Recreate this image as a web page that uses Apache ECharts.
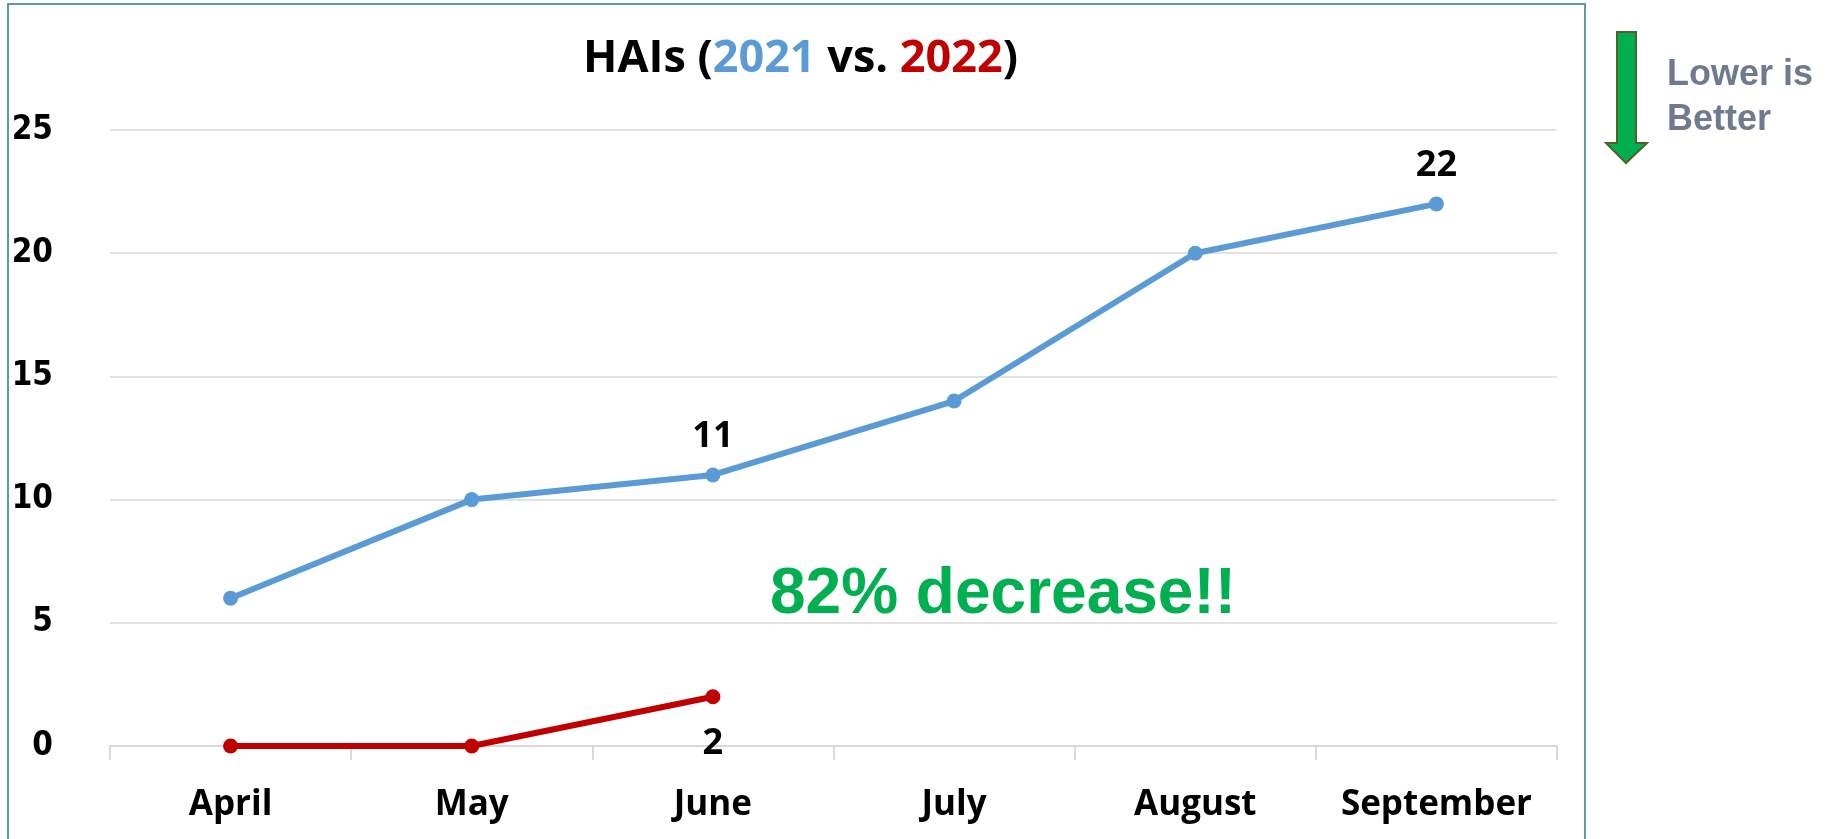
<!DOCTYPE html>
<html>
  <head>
    <meta charset="UTF-8" />
    <title>HAIs (2021 vs. 2022)</title>
    <script type="text/javascript" src="https://cdn.jsdelivr.net/npm/echarts@6.0.0/dist/echarts.min.js"></script>
    <style>
      html, body { margin: 0; padding: 0; background: #fff; }
      #main { width: 1836px; height: 839px; }
    </style>
  </head>
  <body>
    <div id="main"></div>
    <script type="text/javascript">
      // 数据
      var months = ["April", "May", "June", "July", "August", "September"];
      var hai2021 = [6, 10, 11, 14, 20, 22];
      var hai2022 = [0, 0, 2];
      // 只显示这几个点的数值
      var labeled2021 = ["June", "September"];
      var labeled2022 = ["June"];
      var yTicks = [0, 5, 10, 15, 20, 25];

      var blue = "#5B9BD5";
      var red = "#C00000";
      var green = "#00B050";

      function withLabels(values, shown, pos) {
        return values.map(function (v, i) {
          return {
            value: v,
            label: { show: shown.indexOf(months[i]) >= 0, position: pos }
          };
        });
      }

      var myChart = echarts.init(document.getElementById("main"));

      var option = {
        animation: false,
        backgroundColor: "#fff",
        title: {
          text: "{k|HAIs (}{b|2021}{k| vs. }{r|2022}{k|)}",
          left: 583,
          top: 31,
          padding: 0,
          textStyle: {
            rich: {
              k: { fontFamily: "Open Sans", fontWeight: "bold", fontSize: 45, color: "#000", lineHeight: 56 },
              b: { fontFamily: "Open Sans", fontWeight: "bold", fontSize: 45, color: blue, lineHeight: 56 },
              r: { fontFamily: "Open Sans", fontWeight: "bold", fontSize: 45, color: red, lineHeight: 56 }
            }
          }
        },
        grid: {
          left: 110,
          right: 279,
          top: 130,
          bottom: 93,
          containLabel: false,
          outerBoundsMode: "none"
        },
        xAxis: {
          type: "category",
          data: months,
          boundaryGap: true,
          axisLine: { show: true, lineStyle: { color: "#D9D9D9", width: 2 } },
          axisTick: { show: true, interval: 0, length: 14, lineStyle: { color: "#D9D9D9", width: 2 } },
          axisLabel: {
            interval: 0,
            margin: 42,
            color: "#000",
            fontFamily: "Open Sans",
            fontWeight: "bold",
            fontSize: 35
          },
          splitLine: { show: false }
        },
        yAxis: {
          type: "value",
          min: yTicks[0],
          max: yTicks[yTicks.length - 1],
          interval: 5,
          axisLine: { show: false },
          axisTick: { show: false },
          axisLabel: {
            margin: 57,
            color: "#000",
            fontFamily: "'DejaVu Sans Condensed', 'DejaVu Sans'",
            fontWeight: "bold",
            fontSize: 33
          },
          splitLine: { show: true, lineStyle: { color: "#D9D9D9", width: 1.5 } }
        },
        series: [
          {
            name: "2021",
            type: "line",
            data: withLabels(hai2021, labeled2021, "top"),
            symbol: "circle",
            symbolSize: 15,
            lineStyle: { color: blue, width: 6 },
            itemStyle: { color: blue },
            label: {
              distance: 13,
              color: "#000",
              fontFamily: "Open Sans",
              fontWeight: "bold",
              fontSize: 36
            },
            z: 3
          },
          {
            name: "2022",
            type: "line",
            data: withLabels(hai2022, labeled2022, "bottom"),
            symbol: "circle",
            symbolSize: 15,
            lineStyle: { color: red, width: 6 },
            itemStyle: { color: red },
            label: {
              distance: 22,
              color: "#000",
              fontFamily: "Open Sans",
              fontWeight: "bold",
              fontSize: 36
            },
            z: 3
          }
        ],
        graphic: [
          // 外框
          {
            type: "rect",
            shape: { x: 8, y: 4, width: 1577, height: 860 },
            style: { fill: null, stroke: "#5A9E9E", lineWidth: 2 },
            silent: true
          },
          {
            type: "text",
            x: 1003,
            y: 595,
            style: {
              text: "82% decrease!!",
              fill: green,
              font: "bold 64px 'Liberation Sans', Arial, sans-serif",
              textAlign: "center",
              textVerticalAlign: "middle"
            }
          },
          // 向下箭头
          {
            type: "polygon",
            shape: {
              points: [
                [1617, 32], [1636, 32], [1636, 143], [1647, 143],
                [1626, 163], [1606, 143], [1617, 143]
              ]
            },
            style: { fill: green, stroke: "#4F6228", lineWidth: 2 }
          },
          {
            type: "text",
            x: 1667,
            y: 98,
            style: {
              text: "Lower is\nBetter",
              fill: "#6E7B8E",
              font: "bold 36px 'Liberation Sans', Arial, sans-serif",
              lineHeight: 45,
              textAlign: "left",
              textVerticalAlign: "middle"
            }
          }
        ]
      };

      myChart.setOption(option);
    </script>
  </body>
</html>
